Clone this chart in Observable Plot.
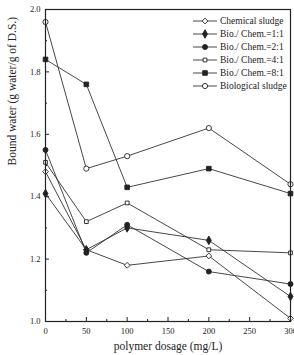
<!DOCTYPE html>
<html>
<head>
<meta charset="utf-8">
<script src="https://cdn.jsdelivr.net/npm/d3@7"></script>
<script src="https://cdn.jsdelivr.net/npm/@observablehq/plot@0.6"></script>
<style>
  html, body { margin: 0; padding: 0; background: #fff; }
  #chart { position: relative; width: 294px; height: 355px; overflow: hidden; }
  svg { font-family: "Liberation Serif", "Times New Roman", serif; }
</style>
</head>
<body>
<div id="chart"></div>
<script>
// Polymer dosage (mg/L) and bound water (g water / g of D.S.) per sludge mix
const dosage = [0, 50, 100, 200, 300];
const chemical = [1.48, 1.23, 1.18, 1.21, 1.01];
const ratio1 = [1.41, 1.23, 1.30, 1.26, 1.08];
const ratio2 = [1.55, 1.22, 1.31, 1.16, 1.12];
const ratio4 = [1.51, 1.32, 1.38, 1.23, 1.22];
const ratio8 = [1.84, 1.76, 1.43, 1.49, 1.41];
const biological = [1.96, 1.49, 1.53, 1.62, 1.44];

const seriesNames = ["Chemical sludge", "Bio./ Chem.=1:1", "Bio./ Chem.=2:1", "Bio./ Chem.=4:1", "Bio./ Chem.=8:1", "Biological sludge"];
const seriesValues = [chemical, ratio1, ratio2, ratio4, ratio8, biological];

const xTicks = [0, 50, 100, 150, 200, 250, 300];
const xMinor = [25, 75, 125, 175, 225, 275];
const yTicks = [1.0, 1.2, 1.4, 1.6, 1.8, 2.0];
const yMinor = [1.1, 1.3, 1.5, 1.7, 1.9];

// marker style per series: symbol and whether it is filled
const markers = [
  {symbol: d3.symbolDiamond2, filled: false, r: 2.6},
  {symbol: d3.symbolDiamond, filled: true, r: 2.6},
  {symbol: d3.symbolCircle, filled: true, r: 2.5},
  {symbol: d3.symbolSquare2, filled: false, r: 2.4},
  {symbol: d3.symbolSquare, filled: true, r: 2.6},
  {symbol: d3.symbolCircle, filled: false, r: 2.6}
];

const rows = seriesNames.map((name, i) =>
  dosage.map((x, j) => ({series: name, x, y: seriesValues[i][j]}))
);

const W = 294, H = 355;
const M = {top: 9, right: 4, bottom: 34, left: 45};
const innerW = W - M.left - M.right;
const innerH = H - M.top - M.bottom;

const ink = "#222";
const lineMarks = rows.map(r => Plot.line(r, {x: "x", y: "y", stroke: "#333", strokeWidth: 0.9}));
const dotMarks = rows.map((r, i) => Plot.dot(r, {
  x: "x", y: "y",
  symbol: () => markers[i].symbol,
  r: markers[i].r,
  fill: markers[i].filled ? ink : "white",
  stroke: ink,
  strokeWidth: 0.9
}));

const chart = Plot.plot({
  width: W,
  height: H,
  marginLeft: M.left,
  marginRight: M.right,
  marginTop: M.top,
  marginBottom: M.bottom,
  x: {domain: [0, 300]},
  y: {domain: [1.0, 2.0]},
  symbol: {type: "identity"},
  style: {fontFamily: "Liberation Serif, Times New Roman, serif", background: "white", overflow: "visible"},
  marks: [
    ...lineMarks,
    ...dotMarks,
    Plot.frame({stroke: ink, strokeWidth: 1.2}),
    // inward major and minor ticks along the bottom and left edges
    Plot.tickX(xTicks, {x: d => d, stroke: ink, insetTop: innerH - 4}),
    Plot.tickX(xMinor, {x: d => d, stroke: ink, insetTop: innerH - 2}),
    Plot.tickY(yTicks, {y: d => d, stroke: ink, insetRight: innerW - 4}),
    Plot.tickY(yMinor, {y: d => d, stroke: ink, insetRight: innerW - 2}),
    // tick labels
    Plot.axisX(xTicks, {tickSize: 0, tickPadding: 6, fontSize: 8.5, fill: ink, label: null}),
    Plot.axisY(yTicks, {tickSize: 0, tickPadding: 5, fontSize: 8.5, fill: ink, label: null, tickFormat: d3.format(".1f")}),
    // axis titles
    Plot.text(["polymer dosage (mg/L)"], {frameAnchor: "bottom", dy: 28, fontSize: 11.5, fill: ink}),
    Plot.text(["Bound water (g water/g of D.S.)"], {frameAnchor: "left", dx: -33, rotate: -90, fontSize: 11.5, fill: ink})
  ]
});

document.getElementById("chart").appendChild(chart);

// legend inside the upper-right corner of the frame
const svg = d3.select(chart);
const legend = svg.append("g").attr("transform", "translate(193,21)");
seriesNames.forEach((name, i) => {
  const g = legend.append("g").attr("transform", `translate(0,${i * 13})`);
  g.append("line").attr("x1", 0).attr("x2", 24).attr("y1", 0).attr("y2", 0)
    .attr("stroke", "#333").attr("stroke-width", 0.9);
  const m = markers[i];
  g.append("path")
    .attr("transform", "translate(12,0)")
    .attr("d", d3.symbol(m.symbol, Math.PI * m.r * m.r)())
    .attr("fill", m.filled ? ink : "white")
    .attr("stroke", ink).attr("stroke-width", 0.9);
  g.append("text").attr("x", 27).attr("y", 0).attr("dy", "0.32em")
    .attr("text-anchor", "start")
    .attr("font-size", 9.5).attr("fill", ink).text(name);
});
</script>
</body>
</html>
